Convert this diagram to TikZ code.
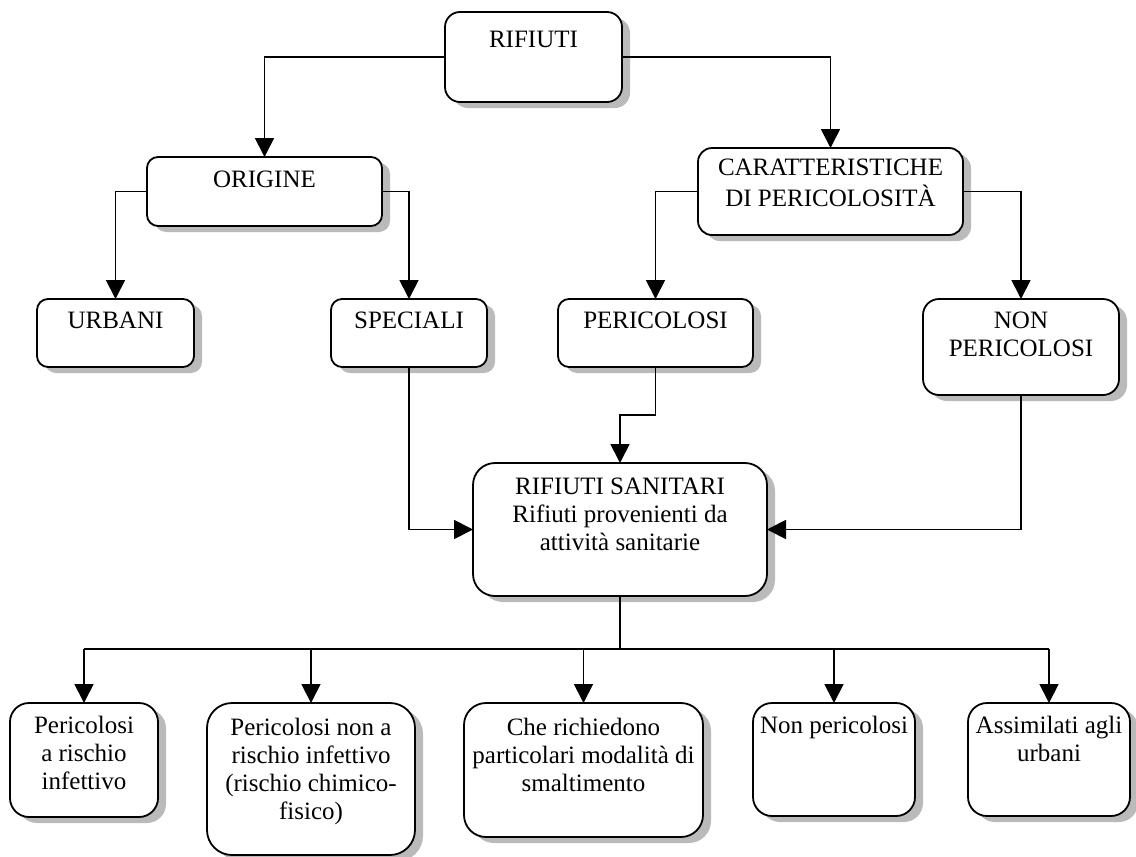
\documentclass[tikz,border=0pt]{standalone}
\usepackage{fontspec}
\setmainfont{Liberation Serif}
\usetikzlibrary{arrows.meta,shadows}
\tikzset{
  box/.style={draw, line width=1.8pt, fill=white,
    general shadow={fill=black!27, shadow xshift=8pt, shadow yshift=-6pt},
    inner sep=0pt, outer sep=0pt},
  lbl/.style={align=center, inner sep=0pt, font=\fontsize{25}{28}\selectfont},
  conn/.style={line width=1.8pt},
  arr/.style={conn, -{Triangle[length=19pt,width=19pt]}},
}
\newcommand\bx[6]{\node[box, rounded corners=#6pt,
  minimum width={(#4-#2)*1pt}, minimum height={(#5-#3)*1pt}]
  (#1) at ({(#2+#4)/2},{(#3+#5)/2}) {};}
\newcommand\tx[4]{\node[lbl, anchor=north] (#1) at (#2,{#3-19.6}) {\strut #4};}
\begin{document}
\begin{tikzpicture}[x=1pt,y=-1pt]
\useasboundingbox (0,0) rectangle (1136,857);
\bx{rif}{445}{12}{622}{102}{15}
\bx{ori}{147}{157}{382}{226}{11}
\bx{car}{698}{148}{963}{235}{14}
\bx{urb}{37}{299}{194}{367}{11}
\bx{spe}{331}{299}{487}{367}{11}
\bx{per}{558}{299}{753}{367}{11}
\bx{non}{923}{299}{1119}{395}{16}
\bx{san}{473}{463}{767}{596}{22}
\bx{b1}{10}{703}{158}{817}{19}
\bx{b2}{207}{703}{415}{855}{25}
\bx{b3}{464}{703}{703}{837}{22}
\bx{b4}{753}{703}{915}{816}{19}
\bx{b5}{968}{703}{1130}{816}{19}

\tx{trif}{533.5}{47}{RIFIUTI}
\tx{tori}{264.5}{187}{ORIGINE}
\tx{tcar}{830.5}{175}{CARATTERISTICHE\\DI PERICOLOSITÀ}
\tx{turb}{115.5}{328}{URBANI}
\tx{tspe}{409}{328}{SPECIALI}
\tx{tper}{655.5}{328}{PERICOLOSI}
\tx{tnon}{1021}{328}{NON\\PERICOLOSI}
\tx{tsan}{620}{494}{RIFIUTI SANITARI\\Rifiuti provenienti da\\attività sanitarie}
\tx{tb1}{84}{733}{Pericolosi\\a rischio\\infettivo}
\tx{tb2}{311}{735}{Pericolosi non a\\rischio infettivo\\(rischio chimico-\\fisico)}
\tx{tb3}{583.5}{735}{Che richiedono\\particolari modalità di\\smaltimento}
\tx{tb4}{834}{733}{Non pericolosi}
\tx{tb5}{1049}{733}{Assimilati agli\\urbani}

\draw[arr] (rif.west) -| (ori.north);
\draw[arr] (rif.east) -| (car.north);
\draw[arr] (ori.west) -| (urb.north);
\draw[arr] (ori.east) -| (spe.north);
\draw[arr] (car.west) -| (per.north);
\draw[arr] (car.east) -| (non.north);
\draw[arr] (spe.south) |- (san.west);
\draw[arr] (non.south) |- (san.east);
\draw[arr] (per.south) -- ++(0,48) -| (san.north);
\coordinate (bus) at (620,649);
\draw[conn, line width=2.6pt] (san.south) -- (bus);
\draw[conn] (b1.north |- bus) -- (b5.north |- bus);
\foreach \b in {b1,b2,b3,b4,b5} \draw[arr] (\b.north |- bus) -- (\b.north);
\end{tikzpicture}
\end{document}
